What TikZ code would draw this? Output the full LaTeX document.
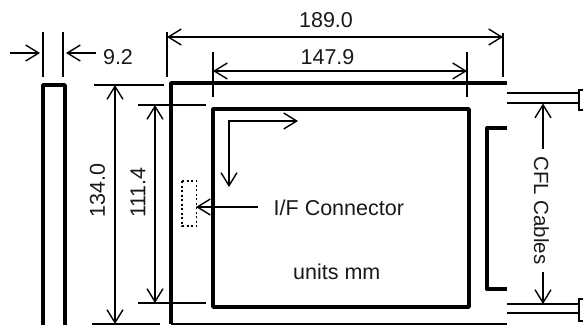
\documentclass[tikz,border=0pt]{standalone}
\usepackage{fontspec}
\setmainfont{Liberation Sans}
\usetikzlibrary{arrows.meta}
\tikzset{
  heavy/.style={line width=3.4pt,line cap=butt,line join=round},
  thin dim/.style={line width=1.4pt},
  dim/.style={line width=1.4pt,{Straight Barb[length=13pt,width=16pt,line width=1.4pt]}-{Straight Barb[length=13pt,width=16pt,line width=1.4pt]}},
  leader/.style={line width=1.4pt,-{Straight Barb[length=13pt,width=16pt,line width=1.4pt]}},
  lbl/.style={inner sep=0pt,font=\fontsize{21.5}{24}\selectfont,text=black!90}
}
\begin{document}
\begin{tikzpicture}[x=1pt,y=-1pt]
\useasboundingbox (0,0) rectangle (583,325);
\clip (0,0) rectangle (583,325);
% side view
\draw[heavy] (43,325) -- (43,85) -- (65,85) -- (65,325);
\draw[thin dim] (43,32) -- (43,77) (63,32) -- (63,77);
\draw[leader] (10,53) -- (40,53);
\draw[leader] (96,53) -- (66,53);
\node[lbl] (t92) at (118,57.5) {9.2};
% outer
\draw[heavy] (507,83) -- (171,83) -- (171,323.5);
\draw[line width=2pt] (171,324) -- (507,324);
% inner
\draw[heavy] (213,109) rectangle (469,307);
% dims
\draw[thin dim] (167,32) -- (167,77) (503,33) -- (503,77);
\draw[dim] (167,37) -- (503,37);
\node[lbl] (t189) at (326,20) {189.0};
\draw[thin dim] (213,52) -- (213,97) (467,52) -- (467,97);
\draw[dim] (213,71) -- (467,71);
\node[lbl] (t147) at (327.5,57.5) {147.9};
\draw[thin dim] (94,85) -- (164,85) (92,324) -- (160,324);
\draw[dim] (115,85) -- (115,324);
\node[lbl,rotate=90] (t134) at (97.5,190.5) {134.0};
\draw[thin dim] (138,105) -- (206,105) (138,303) -- (206,303);
\draw[dim] (155,105) -- (155,303);
\node[lbl,rotate=90] (t111) at (138,192.5) {111.4};
% axes
\draw[dim] (298,121) -- (229,121) -- (229,187);
% connector
\draw[line width=1.5pt,dash pattern=on 2pt off 2.5pt] (182,181) rectangle (196.5,226);
\draw[leader] (258,207) -- (196,207);
\node[lbl,anchor=west] (tif) at (273.5,208) {I/F Connector};
\node[lbl,anchor=west] (tu) at (293,272) {units mm};
% CFL
\draw[heavy] (507,128) -- (487,128) -- (487,289) -- (507,289);
\draw[thin dim] (507,93) -- (578,93) (507,103) -- (578,103) (507,304) -- (578,304) (507,313) -- (578,313);
\draw[line width=2pt] (590,89.5) -- (579,89.5) -- (579,110) -- (590,110);
\draw[line width=2pt] (590,299) -- (579,299) -- (579,321) -- (590,321);
\node[lbl,rotate=-90,font=\fontsize{20.5}{24}\selectfont] (tcfl) at (541.5,210.5) {CFL Cables};
\draw[leader] (543,149) -- (543,103.5);
\draw[leader] (543,272) -- (543,304);
\end{tikzpicture}
\end{document}
